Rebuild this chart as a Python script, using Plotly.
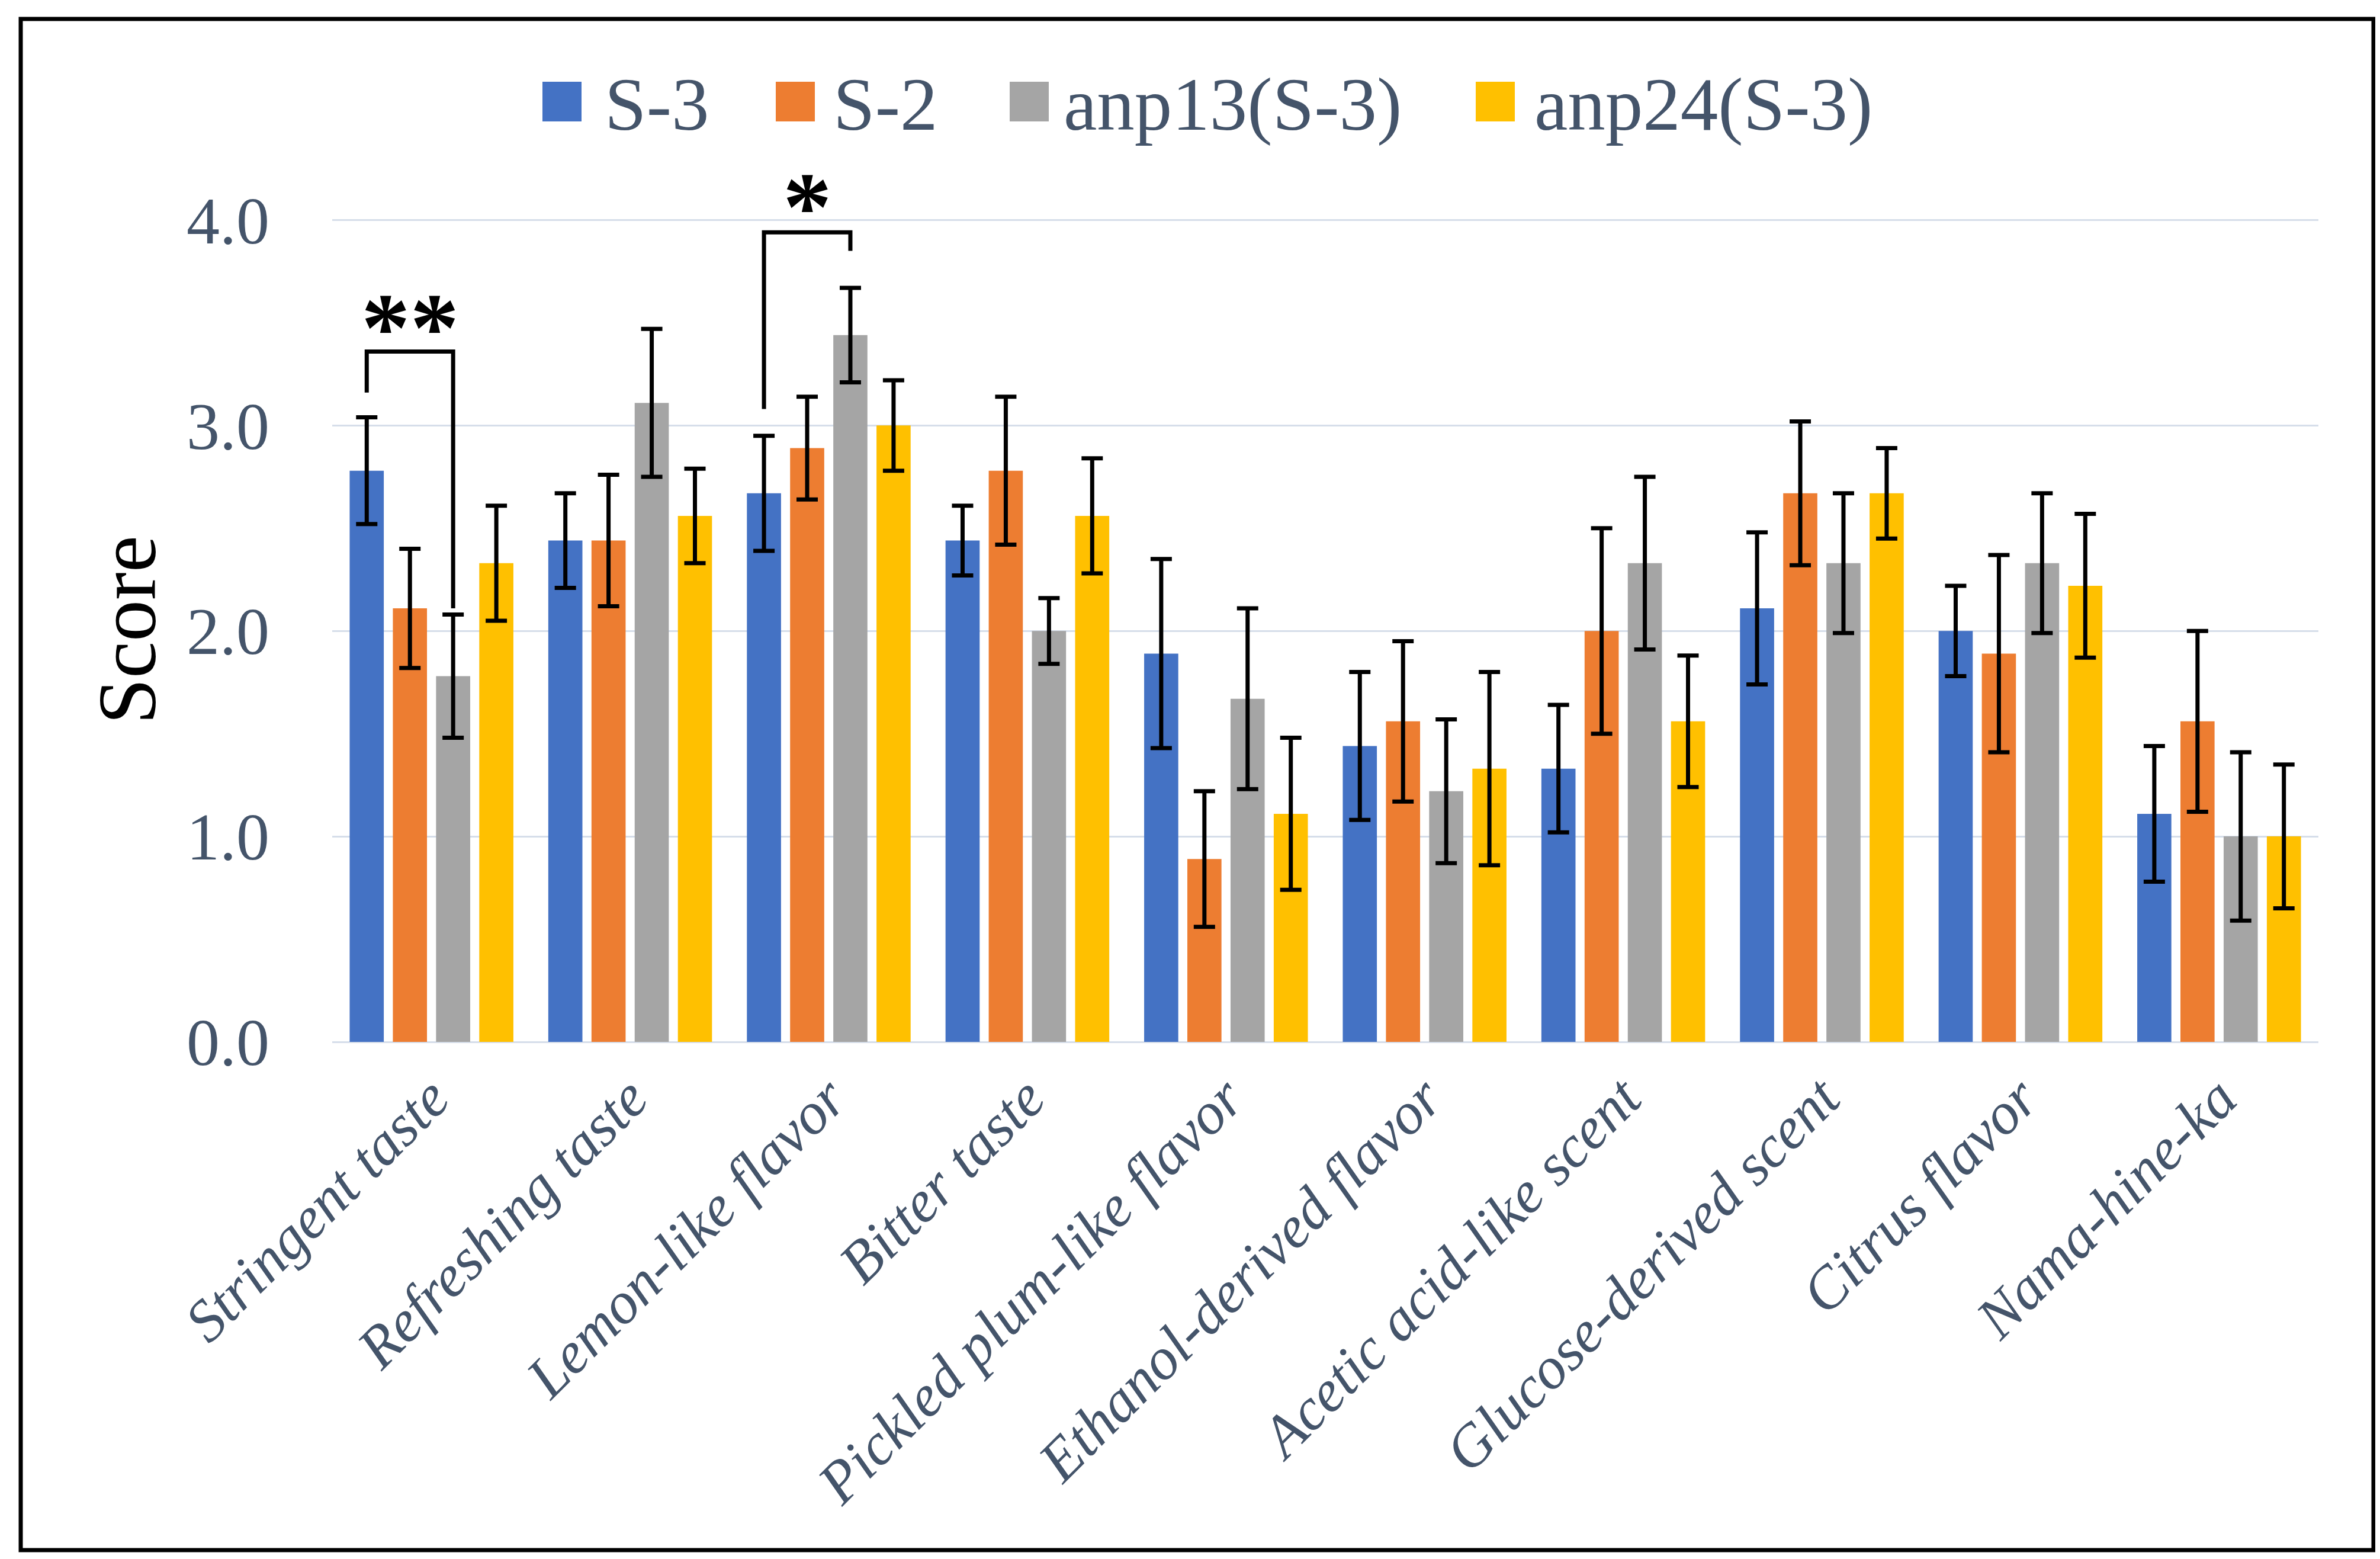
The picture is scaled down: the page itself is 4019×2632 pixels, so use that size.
import plotly.graph_objects as go

categories = ["Stringent taste", "Refreshing taste", "Lemon-like flavor", "Bitter taste",
              "Pickled plum-like flavor", "Ethanol-derived flavor", "Acetic acid-like scent",
              "Glucose-derived scent", "Citrus flavor", "Nama-hine-ka"]

series_names = ["S-3", "S-2", "anp13(S-3)", "anp24(S-3)"]

s3_mean = [2.78, 2.44, 2.67, 2.44, 1.89, 1.44, 1.33, 2.11, 2.00, 1.11]
s2_mean = [2.11, 2.44, 2.89, 2.78, 0.89, 1.56, 2.00, 2.67, 1.89, 1.56]
anp13_mean = [1.78, 3.11, 3.44, 2.00, 1.67, 1.22, 2.33, 2.33, 2.33, 1.00]
anp24_mean = [2.33, 2.56, 3.00, 2.56, 1.11, 1.33, 1.56, 2.67, 2.22, 1.00]

s3_err = [0.26, 0.23, 0.28, 0.17, 0.46, 0.36, 0.31, 0.37, 0.22, 0.33]
s2_err = [0.29, 0.32, 0.25, 0.36, 0.33, 0.39, 0.50, 0.35, 0.48, 0.44]
anp13_err = [0.30, 0.36, 0.23, 0.16, 0.44, 0.35, 0.42, 0.34, 0.34, 0.41]
anp24_err = [0.28, 0.23, 0.22, 0.28, 0.37, 0.47, 0.32, 0.22, 0.35, 0.35]

y_ticks = [0.0, 1.0, 2.0, 3.0, 4.0]
y_tick_text = ["0.0", "1.0", "2.0", "3.0", "4.0"]
y_max = 4.01

# significance: (category index, series a, series b, label, bracket top, leg a bottom, leg b bottom, label y)
significance = [
    (0, 0, 2, "**", 3.36, 3.16, 2.11, 3.50),
    (2, 0, 2, "*", 3.94, 3.08, 3.85, 4.09),
]

colors = ["#4472C4", "#ED7D31", "#A5A5A5", "#FFC000"]
means = [s3_mean, s2_mean, anp13_mean, anp24_mean]
errs = [s3_err, s2_err, anp13_err, anp24_err]

W, H = 4019, 2632
L, R, T, B = 553, 112, 360, 881
PW, PH = W - L - R, H - T - B

def px_x(p):
    return (p - L) / PW

def px_y(p):
    return (H - B - p) / PH

BARGAP = 0.13
BARGROUPGAP = 0.21

fig = go.Figure()
for name, col, m, e in zip(series_names, colors, means, errs):
    fig.add_trace(go.Bar(
        name=name, x=categories, y=m,
        marker=dict(color=col, line=dict(width=0)),
        error_y=dict(type="data", array=e, visible=True, color="black", thickness=7, width=18),
        showlegend=False,
    ))

text_color = "#44546A"
serif = "Liberation Serif"

shapes = []
annotations = []

# significance brackets
nser = len(series_names)
slot = (1 - BARGAP) / nser
def bar_center(ci, si):
    return ci + (si - (nser - 1) / 2) * slot

for ci, sa, sb, lab, top, ya, yb, ly in significance:
    xa, xb = bar_center(ci, sa), bar_center(ci, sb)
    shapes.append(dict(type="path", xref="x", yref="y",
                       path=f"M {xa},{ya} L {xa},{top} L {xb},{top} L {xb},{yb}",
                       line=dict(color="black", width=7)))
    annotations.append(dict(x=(xa + xb) / 2, y=ly / y_max, xref="x", yref="paper", text=lab,
                            showarrow=False, xanchor="center", yanchor="middle", yshift=-9,
                            font=dict(family=serif, size=165, color="black", weight="bold")))

# custom legend
sw_left = [908, 1302, 1697, 2484]
txt_left = [1011, 1397, 1786, 2581]
for name, col, sl, tl in zip(series_names, colors, sw_left, txt_left):
    shapes.append(dict(type="rect", xref="paper", yref="paper",
                       x0=px_x(sl), x1=px_x(sl + 66), y0=px_y(197), y1=px_y(130),
                       fillcolor=col, line=dict(width=0)))
    annotations.append(dict(x=px_x(tl), y=px_y(168), xref="paper", yref="paper",
                            xanchor="left", yanchor="middle", text=name, showarrow=False,
                            font=dict(family=serif, size=127, color=text_color)))

# outer border
shapes.append(dict(type="rect", xref="paper", yref="paper",
                   x0=px_x(27), x1=px_x(4000), y0=px_y(2609), y1=px_y(24),
                   line=dict(color="black", width=7), fillcolor="rgba(0,0,0,0)"))

fig.update_layout(
    width=W, height=H,
    margin=dict(l=L, r=R, t=T, b=B, autoexpand=False),
    paper_bgcolor="white", plot_bgcolor="white",
    barmode="group", bargap=BARGAP, bargroupgap=BARGROUPGAP,
    showlegend=False,
    shapes=shapes, annotations=annotations,
    font=dict(family=serif, color=text_color),
)
fig.update_xaxes(
    type="category", tickangle=-45, showgrid=False, zeroline=False, showline=False, ticks="",
    ticklabelstandoff=15,
    tickfont=dict(family=serif, size=100, color=text_color, style="italic"),
)
fig.update_yaxes(
    range=[0, y_max], tickvals=y_ticks, ticktext=y_tick_text,
    showgrid=True, gridcolor="#D6DEEA", gridwidth=3,
    zeroline=True, zerolinecolor="#D6DEEA", zerolinewidth=3,
    showline=False, ticks="", ticklabelstandoff=105,
    tickfont=dict(family=serif, size=112, color=text_color),
    title=dict(text="Score", font=dict(family=serif, size=140, color="black"), standoff=5),
)

fig.write_html("out.html")
